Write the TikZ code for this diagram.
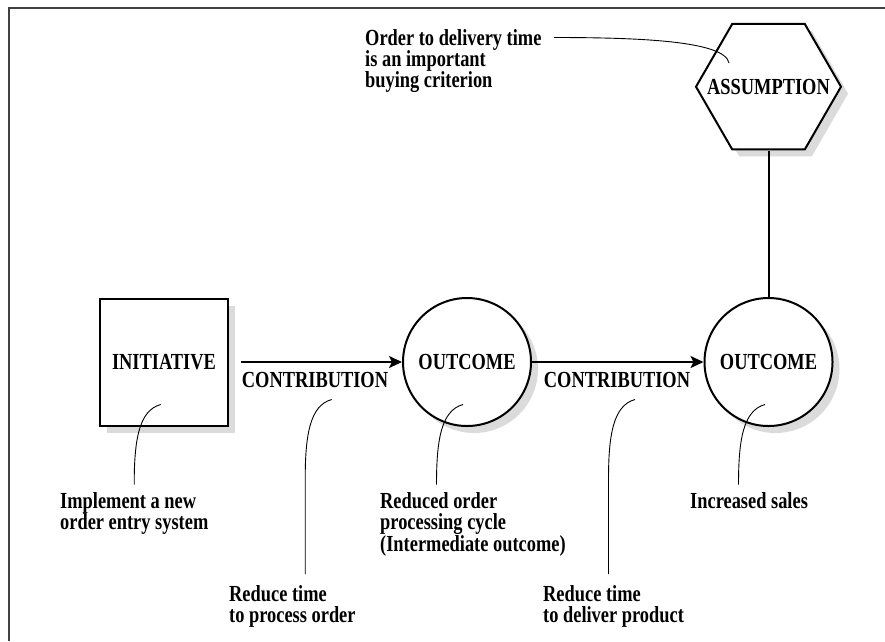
\documentclass[tikz,border=0pt]{standalone}
\usepackage{fontspec}
\setmainfont{Liberation Serif}[FakeStretch=0.8]
\usetikzlibrary{shapes.geometric,shadows,arrows.meta}

\tikzset{
  lbl/.style={font=\fontsize{23}{21}\selectfont\bfseries, inner sep=0pt},
  note/.style={lbl, align=left, anchor=north west},
  boxshadow/.style={drop shadow={shadow xshift=7pt,shadow yshift=-7pt,fill=black!14,opacity=1}},
  initbox/.style={lbl, draw, line width=2pt, fill=white, boxshadow, minimum width=128pt, minimum height=127pt},
  outcome/.style={lbl, draw, circle, line width=2pt, fill=white, boxshadow, minimum size=128pt},
  hexa/.style={draw, regular polygon, regular polygon sides=6, line width=2pt, fill=white, boxshadow, minimum size=145pt, inner sep=0pt},
  flow/.style={line width=2pt, -{Stealth[length=13pt,width=12pt,inset=3pt]}},
  link/.style={line width=2pt},
  leader/.style={line width=0.9pt},
  framerule/.style={line width=2pt, black!75}
}

\begin{document}
\begin{tikzpicture}[x=1pt,y=-1pt]
\useasboundingbox (0,0) rectangle (885,641);

% open frame: top and left rules only
\draw[framerule] (885,8) -- (9,8) -- (9,641);

% main chain
\node[initbox] (init) at (164,362) {INITIATIVE};
\node[outcome] (out1) at (467,362) {OUTCOME};
\node[outcome] (out2) at (768.5,362) {OUTCOME};
\node[hexa] (asm) at (768.5,86.7) {};
\node[lbl] (asmtext) at (asm) {ASSUMPTION};

\draw[flow] ([xshift=12pt]init.east) -- (out1.west);
\draw[flow] (out1.east) -- (out2.west);
\draw[link] (asm.south) -- (out2.north);

\node[lbl] (contrib1) at (315,380) {CONTRIBUTION};
\node[lbl] (contrib2) at (617,380) {CONTRIBUTION};

% explanatory notes
\node[note] (noteasm) at (365,29.5) {Order to delivery time\\is an important\\buying criterion};
\node[note] (noteinit) at (60,492.5) {Implement a new\\order entry system};
\node[note] (notec1) at (229,585) {Reduce time\\to process order};
\node[note] (noteout1) at (380,492.5) {Reduced order\\processing cycle\\(Intermediate outcome)};
\node[note] (notec2) at (543,585) {Reduce time\\to deliver product};
\node[note] (noteout2) at (690,492.5) {Increased sales};

% leader lines
\coordinate (l1s) at (160.7,404.5);  \coordinate (l1e) at (134.2,484);
\coordinate (l2s) at (331.7,399.5);  \coordinate (l2e) at (305.2,574);
\coordinate (l3s) at (463,404.5);    \coordinate (l3e) at (436.5,484);
\coordinate (l4s) at (635,399.5);    \coordinate (l4e) at (608.5,574);
\coordinate (l5s) at (765,404.5);    \coordinate (l5e) at (738.5,484);

\foreach \s/\e in {l1s/l1e, l2s/l2e, l3s/l3e, l4s/l4e, l5s/l5e}
  \draw[leader] (\s) .. controls ([shift={(-22,6)}]\s) and ([shift={(-26.5,36)}]\s)
     .. ([shift={(-26.5,80)}]\s) -- (\e);

\coordinate (asmlead) at (554,37.5);
\coordinate (asmtip) at (729,63);
\draw[leader] (asmlead) .. controls (640,37.5) and (725,41) .. (asmtip);
\end{tikzpicture}
\end{document}
